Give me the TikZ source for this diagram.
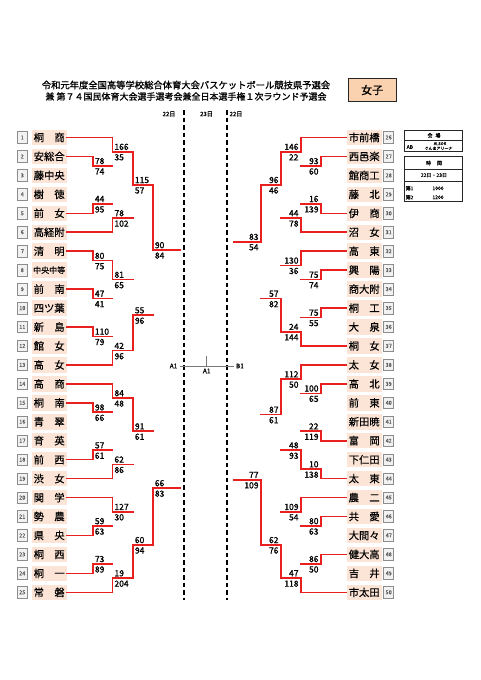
\documentclass[tikz,border=0pt]{standalone}
\usepackage{fontspec}
\setmainfont{Noto Sans CJK JP}[FakeBold=0.25]
\newfontfamily\boldjp{Noto Sans CJK JP}[FakeBold=1.1]
\usetikzlibrary{calc}
\definecolor{bred}{RGB}{232,32,32}
\definecolor{bgry}{RGB}{120,120,120}
\definecolor{namefill}{RGB}{252,228,214}
\definecolor{numfill}{RGB}{242,242,242}
\definecolor{numline}{RGB}{140,140,140}
\definecolor{numtext}{RGB}{90,90,90}
\definecolor{titlefill}{RGB}{250,210,175}
\pgfdeclarelayer{bg}
\pgfdeclarelayer{fg}
\pgfsetlayers{bg,main,fg}
\def\laywn{fg}\def\layls{bg}
\newcommand\seg[4]{%
\begin{pgfonlayer}{\csname lay#3\endcsname}\draw[#3] (#1) -- (#1 -| #2);\end{pgfonlayer}%
\begin{pgfonlayer}{\csname lay#4\endcsname}\draw[#4] (#1 -| #2) -- (#2);\end{pgfonlayer}}
\newcommand\scL[3]{\node[sc,anchor=base west] (#1a) at ($(#1)+(2,-1.8)$) {#2};\node[sc,anchor=base west] (#1b) at ($(#1)+(2,8.6)$) {#3};}
\newcommand\scR[3]{\node[sc,anchor=base east] (#1a) at ($(#1)+(-2,-1.8)$) {#2};\node[sc,anchor=base east] (#1b) at ($(#1)+(-2,8.6)$) {#3};}
\newcommand\two[2]{\makebox[31pt]{#1\hfill#2}}
\begin{document}
\begin{tikzpicture}[x=1pt,y=-1pt,
 wn/.style={draw=bred,line width=1.6pt,line cap=rect},
 ls/.style={draw=bgry,line width=0.9pt,line cap=rect},
 namebox/.style={fill=namefill,minimum width=35pt,minimum height=15.5pt,inner sep=0pt,font=\fontsize{10.3}{10.3}\selectfont},
 numbox/.style={fill=numfill,draw=numline,line width=0.6pt,minimum width=10pt,minimum height=11.5pt,inner sep=0pt,text=numtext,font=\fontsize{5.5}{5.5}\selectfont},
 sc/.style={inner sep=0pt,font=\fontsize{8.5}{8.5}\boldjp},
 lbl/.style={inner sep=0pt,font=\fontsize{6.5}{6.5}\boldjp},
 day/.style={inner sep=0pt,font=\fontsize{6}{6}\boldjp},
 dsh/.style={draw=black,line width=1.8pt,dash pattern=on 4.5pt off 3pt},
 tline/.style={draw=black!85,line width=0.7pt},
 tt/.style={inner sep=0pt,font=\fontsize{5}{5}\selectfont},
 ttiny/.style={inner sep=0pt,font=\fontsize{4}{4}\selectfont}]
\fill[white] (0,0) rectangle (481,680);
\useasboundingbox (0,0) rectangle (481,680);
% title
\node[inner sep=0pt,font=\fontsize{9.3}{10}\boldjp] (ttl1) at (186,85) {令和元年度全国高等学校総合体育大会バスケットボール競技県予選会};
\node[inner sep=0pt,font=\fontsize{9}{10}\boldjp] (ttl2) at (186,96.5) {兼 第７４国民体育大会選手選考会兼全日本選手権１次ラウンド予選会};
\node[draw=black!85,fill=titlefill,line width=0.8pt,minimum width=47.7pt,minimum height=23pt,inner sep=0pt,font=\fontsize{11}{11}\boldjp] (joshi) at (372.2,90) {女子};
% day labels and dashed lines
\node[day] (d1) at (169,114) {22日};
\node[day] (d2) at (206.5,114) {23日};
\node[day] (d3) at (236,114) {22日};
\coordinate (da1) at (184.3,110); \coordinate (da2) at (184.3,600);
\coordinate (db1) at (226.7,110); \coordinate (db2) at (226.7,600);
\draw[dsh] (da1) -- (da2);
\draw[dsh] (db1) -- (db2);
% teams left
\foreach \i/\nm in {1/\two{桐}{商},2/安総合,3/藤中央,4/\two{樹}{徳},5/\two{前}{女},6/高経附,7/\two{清}{明},8/{\fontsize{8}{8}\selectfont 中央中等},9/\two{前}{南},10/四ツ葉,11/\two{新}{島},12/\two{館}{女},13/\two{高}{女},14/\two{高}{商},15/\two{桐}{南},16/\two{青}{翠},17/\two{育}{英},18/\two{前}{西},19/\two{渋}{女},20/\two{関}{学},21/\two{勢}{農},22/\two{県}{央},23/\two{桐}{西},24/\two{桐}{一},25/\two{常}{磐}}{
 \pgfmathsetmacro\yy{137.5+(\i-1)*18.95}
 \node[numbox] (n\i) at (22.3,\yy) {\i};
 \node[namebox] (t\i) at (49.2,\yy) {\nm};
}
% teams right
\foreach \i/\nm in {26/市前橋,27/西邑楽,28/館商工,29/\two{藤}{北},30/\two{伊}{商},31/\two{沼}{女},32/\two{高}{東},33/\two{興}{陽},34/商大附,35/\two{桐}{工},36/\two{大}{泉},37/\two{桐}{女},38/\two{太}{女},39/\two{高}{北},40/\two{前}{東},41/新田暁,42/\two{富}{岡},43/下仁田,44/\two{太}{東},45/\two{農}{二},46/\two{共}{愛},47/大間々,48/健大高,49/\two{吉}{井},50/市太田}{
 \pgfmathsetmacro\yy{137.5+(\i-26)*18.95}
 \node[numbox] (n\i) at (388.7,\yy) {\i};
 \node[namebox] (t\i) at (364.2,\yy) {\nm};
}
% match points left
\coordinate (m1) at (92.7,165.93);
\coordinate (m2) at (112.3,151.71);
\coordinate (m3) at (92.7,203.83);
\coordinate (m4) at (112.3,218.04);
\coordinate (m5) at (132.7,184.88);
\coordinate (m6) at (92.7,260.68);
\coordinate (m7) at (92.7,298.58);
\coordinate (m8) at (112.3,279.63);
\coordinate (m9) at (92.7,336.48);
\coordinate (m10) at (112.3,350.69);
\coordinate (m11) at (132.7,315.16);
\coordinate (m12) at (152.7,250.02);
\coordinate (m13) at (92.7,412.28);
\coordinate (m14) at (112.3,398.06);
\coordinate (m15) at (92.7,450.18);
\coordinate (m16) at (112.3,464.39);
\coordinate (m17) at (132.7,431.22);
\coordinate (m18) at (92.7,525.98);
\coordinate (m19) at (112.3,511.76);
\coordinate (m20) at (92.7,563.88);
\coordinate (m21) at (112.3,578.09);
\coordinate (m22) at (132.7,544.92);
\coordinate (m23) at (152.7,488.07);
\coordinate (fa) at (180,366);
% match points right
\coordinate (r1) at (320.7,165.93);
\coordinate (r2) at (300.7,151.71);
\coordinate (r3) at (320.7,203.83);
\coordinate (r4) at (300.7,218.04);
\coordinate (r5) at (280.7,184.88);
\coordinate (r6) at (320.7,279.63);
\coordinate (r7) at (300.7,265.41);
\coordinate (r8) at (320.7,317.53);
\coordinate (r9) at (300.7,331.74);
\coordinate (r10) at (280.7,298.58);
\coordinate (r11) at (260.7,241.73);
\coordinate (r12) at (320.7,393.33);
\coordinate (r13) at (300.7,379.11);
\coordinate (r14) at (320.7,431.23);
\coordinate (r15) at (320.7,469.13);
\coordinate (r16) at (300.7,450.18);
\coordinate (r17) at (280.7,414.64);
\coordinate (r18) at (320.7,525.98);
\coordinate (r19) at (300.7,511.76);
\coordinate (r20) at (320.7,563.88);
\coordinate (r21) at (300.7,578.09);
\coordinate (r22) at (280.7,544.92);
\coordinate (r23) at (260.7,479.78);
\coordinate (fb) at (233.3,366);
% left bracket
\seg{t2.east}{m1}{wn}{wn}\seg{t3.east}{m1}{ls}{ls}
\seg{t1.east}{m2}{wn}{wn}\seg{m1}{m2}{wn}{ls}
\seg{t4.east}{m3}{ls}{ls}\seg{t5.east}{m3}{wn}{wn}
\seg{m3}{m4}{wn}{ls}\seg{t6.east}{m4}{wn}{wn}
\seg{m2}{m5}{wn}{wn}\seg{m4}{m5}{wn}{ls}
\seg{t7.east}{m6}{wn}{wn}\seg{t8.east}{m6}{ls}{ls}
\seg{t9.east}{m7}{wn}{wn}\seg{t10.east}{m7}{ls}{ls}
\seg{m6}{m8}{wn}{wn}\seg{m7}{m8}{wn}{ls}
\seg{t11.east}{m9}{wn}{wn}\seg{t12.east}{m9}{ls}{ls}
\seg{m9}{m10}{wn}{ls}\seg{t13.east}{m10}{wn}{wn}
\seg{m8}{m11}{wn}{ls}\seg{m10}{m11}{wn}{wn}
\seg{m5}{m12}{wn}{wn}\seg{m11}{m12}{wn}{ls}
\seg{t15.east}{m13}{wn}{wn}\seg{t16.east}{m13}{ls}{ls}
\seg{t14.east}{m14}{wn}{wn}\seg{m13}{m14}{wn}{ls}
\seg{t17.east}{m15}{ls}{ls}\seg{t18.east}{m15}{wn}{wn}
\seg{m15}{m16}{wn}{ls}\seg{t19.east}{m16}{wn}{wn}
\seg{m14}{m17}{wn}{wn}\seg{m16}{m17}{wn}{ls}
\seg{t21.east}{m18}{ls}{ls}\seg{t22.east}{m18}{wn}{wn}
\seg{t20.east}{m19}{wn}{wn}\seg{m18}{m19}{wn}{ls}
\seg{t23.east}{m20}{ls}{ls}\seg{t24.east}{m20}{wn}{wn}
\seg{m20}{m21}{wn}{ls}\seg{t25.east}{m21}{wn}{wn}
\seg{m19}{m22}{wn}{ls}\seg{m21}{m22}{wn}{wn}
\seg{m17}{m23}{wn}{ls}\seg{m22}{m23}{wn}{wn}
\seg{m12}{fa}{wn}{ls}\seg{m23}{fa}{wn}{ls}
% right bracket
\seg{t27.west}{r1}{wn}{wn}\seg{t28.west}{r1}{ls}{ls}
\seg{t26.west}{r2}{wn}{wn}\seg{r1}{r2}{wn}{ls}
\seg{t29.west}{r3}{ls}{ls}\seg{t30.west}{r3}{wn}{wn}
\seg{r3}{r4}{wn}{ls}\seg{t31.west}{r4}{wn}{wn}
\seg{r2}{r5}{wn}{wn}\seg{r4}{r5}{wn}{ls}
\seg{t33.west}{r6}{wn}{wn}\seg{t34.west}{r6}{ls}{ls}
\seg{t32.west}{r7}{wn}{wn}\seg{r6}{r7}{wn}{ls}
\seg{t35.west}{r8}{wn}{wn}\seg{t36.west}{r8}{ls}{ls}
\seg{r8}{r9}{wn}{ls}\seg{t37.west}{r9}{wn}{wn}
\seg{r7}{r10}{wn}{ls}\seg{r9}{r10}{wn}{wn}
\seg{r5}{r11}{wn}{wn}\seg{r10}{r11}{wn}{ls}
\seg{t39.west}{r12}{wn}{wn}\seg{t40.west}{r12}{ls}{ls}
\seg{t38.west}{r13}{wn}{wn}\seg{r12}{r13}{wn}{ls}
\seg{t41.west}{r14}{ls}{ls}\seg{t42.west}{r14}{wn}{wn}
\seg{t43.west}{r15}{ls}{ls}\seg{t44.west}{r15}{wn}{wn}
\seg{r14}{r16}{wn}{ls}\seg{r15}{r16}{wn}{wn}
\seg{r13}{r17}{wn}{wn}\seg{r16}{r17}{wn}{ls}
\seg{t46.west}{r18}{wn}{wn}\seg{t47.west}{r18}{ls}{ls}
\seg{t45.west}{r19}{wn}{wn}\seg{r18}{r19}{wn}{ls}
\seg{t48.west}{r20}{wn}{wn}\seg{t49.west}{r20}{ls}{ls}
\seg{r20}{r21}{wn}{ls}\seg{t50.west}{r21}{wn}{wn}
\seg{r19}{r22}{wn}{ls}\seg{r21}{r22}{wn}{wn}
\seg{r17}{r23}{wn}{ls}\seg{r22}{r23}{wn}{wn}
\seg{r11}{fb}{wn}{ls}\seg{r23}{fb}{wn}{ls}
% centre
\draw[ls] (fa) -- (fb);
\coordinate (tk) at (206.7,356);
\draw[ls] (tk) -- (tk |- fa);
\node[lbl,anchor=east] (la) at ($(fa)+(-2.5,0)$) {A1};
\node[lbl,anchor=west] (lb) at ($(fb)+(2.5,0)$) {B1};
\node[lbl] (lc) at (206.7,371) {A1};
% scores left
\scL{m1}{78}{74}\scL{m2}{166}{35}\scL{m3}{44}{95}\scL{m4}{78}{102}
\scL{m5}{115}{57}\scL{m6}{80}{75}\scL{m7}{47}{41}\scL{m8}{81}{65}
\scL{m9}{110}{79}\scL{m10}{42}{96}\scL{m11}{55}{96}\scL{m12}{90}{84}
\scL{m13}{98}{66}\scL{m14}{84}{48}\scL{m15}{57}{61}\scL{m16}{62}{86}
\scL{m17}{91}{61}\scL{m18}{59}{63}\scL{m19}{127}{30}\scL{m20}{73}{89}
\scL{m21}{19}{204}\scL{m22}{60}{94}\scL{m23}{66}{83}
% scores right
\scR{r1}{93}{60}\scR{r2}{146}{22}\scR{r3}{16}{139}\scR{r4}{44}{78}
\scR{r5}{96}{46}\scR{r6}{75}{74}\scR{r7}{130}{36}\scR{r8}{75}{55}
\scR{r9}{24}{144}\scR{r10}{57}{82}\scR{r11}{83}{54}\scR{r12}{100}{65}
\scR{r13}{112}{50}\scR{r14}{22}{119}\scR{r15}{10}{138}\scR{r16}{48}{93}
\scR{r17}{87}{61}\scR{r18}{80}{63}\scR{r19}{109}{54}\scR{r20}{86}{50}
\scR{r21}{47}{118}\scR{r22}{62}{76}\scR{r23}{77}{109}
% venue table
\draw[tline] (404.3,130) rectangle (462.3,151.7);
\draw[tline] (404.3,140.7) -- (462.3,140.7);
\node[tt] (vh) at (434,135.4) {会\hspace{3pt}場};
\node[tt,anchor=west] (vab) at (406.5,147) {AB};
\node[ttiny] (v1) at (440,143.6) {ALSOK};
\node[ttiny] (v2) at (438.5,148.4) {ぐんまアリーナ};
% time table
\draw[tline] (404.3,156.7) rectangle (462.3,201.7);
\draw[tline] (404.3,169) -- (462.3,169);
\draw[tline] (404.3,181) -- (462.3,181);
\node[tt] (th) at (434,163) {時\hspace{6pt}間};
\node[tt] (tdays) at (434,175.2) {22日・23日};
\node[tt,anchor=west] (tk1) at (405.5,188.3) {第1};
\node[tt] (tv1) at (438,188.3) {1000};
\node[tt,anchor=west] (tk2) at (405.5,197.3) {第2};
\node[tt] (tv2) at (438,197.3) {1200};
\end{tikzpicture}
\end{document}
